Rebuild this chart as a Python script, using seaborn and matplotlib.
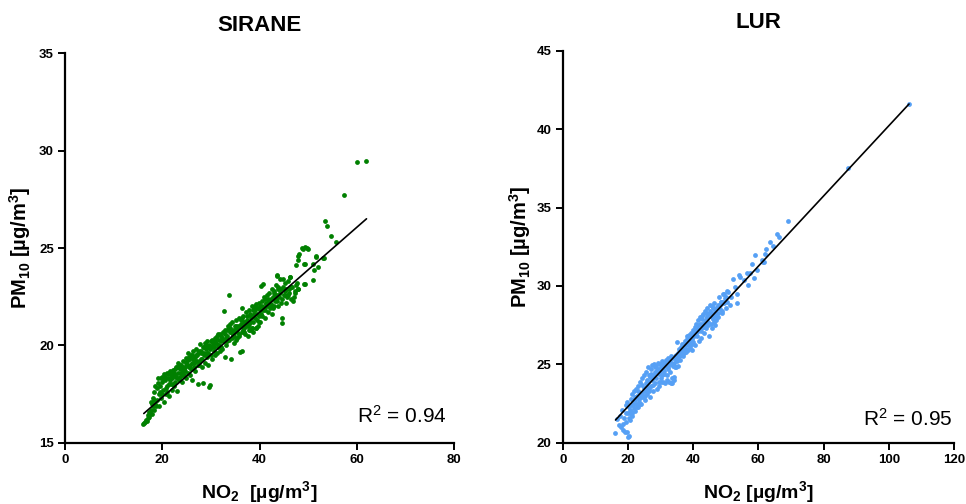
import matplotlib
matplotlib.use("Agg")
import matplotlib.pyplot as plt
import seaborn as sns

# SIRANE panel: points
sirane_no2 = [
    16.1, 16.3, 16.5, 16.6, 16.8, 17.0, 17.1, 17.3, 17.4, 17.5,
    17.6, 17.7, 17.8, 18.0, 18.1, 18.2, 18.4, 18.5, 18.7, 18.9,
    19.0, 19.1, 19.3, 19.4, 19.6, 19.8, 19.9, 20.1, 20.3, 20.4,
    20.6, 20.7, 20.9, 21.0, 21.2, 21.4, 21.5, 21.7, 21.8, 22.0,
    22.1, 22.3, 22.4, 22.6, 22.7, 22.9, 23.0, 23.2, 23.3, 23.4,
    23.6, 23.7, 23.9, 24.0, 24.2, 24.3, 24.5, 24.6, 24.8, 24.9,
    25.0, 25.2, 25.3, 25.5, 25.6, 25.8, 25.9, 26.1, 26.2, 26.4,
    26.5, 26.7, 26.8, 27.0, 27.1, 27.3, 27.4, 27.6, 27.8, 27.9,
    28.0, 28.2, 28.4, 28.5, 28.7, 28.8, 29.0, 29.2, 29.3, 29.5,
    29.6, 29.7, 29.8, 30.0, 30.2, 30.3, 30.5, 30.6, 30.8, 30.9,
    31.0, 31.2, 31.3, 31.5, 31.6, 31.8, 31.9, 32.1, 32.3, 32.4,
    32.6, 32.7, 32.9, 33.0, 33.2, 33.3, 33.5, 33.65, 33.8, 33.9,
    34.0, 34.1, 34.3, 34.4, 34.6, 34.7, 34.9, 35.0, 35.2, 35.4,
    35.5, 35.7, 35.8, 36.0, 36.1, 36.3, 36.5, 36.6, 36.8, 36.9,
    37.0, 37.2, 37.3, 37.5, 37.6, 37.8, 37.9, 38.1, 38.3, 38.4,
    38.6, 38.7, 38.9, 39.0, 39.2, 39.3, 39.5, 39.6, 39.8, 39.9,
    40.0, 40.2, 40.3, 40.5, 40.6, 40.8, 40.9, 41.1, 41.2, 41.4,
    41.5, 41.7, 41.8, 42.0, 42.2, 42.3, 42.5, 42.6, 42.8, 42.9,
    43.0, 43.2, 43.3, 43.5, 43.6, 43.8, 43.9, 44.1, 44.3, 44.4,
    44.5, 44.6, 44.6, 44.8, 45.0, 45.2, 45.4, 45.5, 45.7, 45.9,
    46.0, 46.3, 46.5, 46.7, 47.0, 47.2, 47.5, 47.6, 47.8, 48.0,
    48.0, 48.0, 48.2, 48.7, 48.9, 49.2, 49.3, 49.4, 49.8, 49.9,
    50.9, 51.1, 51.3, 51.6, 51.6, 52.1, 53.1, 53.3, 53.5, 53.8,
    54.7, 55.7, 57.4, 60.1, 62.0, 49.2, 43.5, 46.3, 49.4, 48.0,
    18.3, 19.5, 20.0, 20.8, 21.3, 21.9, 22.5, 23.1, 23.8, 24.4,
    25.1, 25.7, 26.3, 26.9, 27.5, 28.1, 28.6, 29.1, 29.9, 30.4,
    30.7, 31.1, 31.7, 32.2, 32.8, 33.4, 34.2, 34.8, 35.3, 35.9,
    36.2, 36.7, 37.1, 37.7, 38.2, 38.8, 39.4, 40.1, 40.7, 41.3,
    41.9, 42.4, 43.1, 43.7, 44.2, 44.9, 45.3, 45.8, 46.4, 47.3,
    19.7, 20.5, 21.1, 21.6, 22.2, 22.8, 23.5, 24.1, 24.7, 25.4,
    26.0, 26.6, 27.2, 27.7, 28.3, 28.9, 29.4, 30.1, 31.4, 32.0,
    33.1, 33.7, 34.5, 35.1, 35.6, 36.4, 37.4, 38.0, 38.5, 39.1,
    17.2, 17.9, 18.6, 19.2, 19.9, 20.2, 20.9, 21.4, 22.0, 22.6,
    23.1, 23.7, 24.3, 24.9, 25.5, 26.1, 26.7, 27.3, 27.9, 28.5,
    29.1, 29.7, 30.3, 30.9, 31.5, 32.1, 32.7, 33.3, 33.9, 34.5,
    35.1, 35.7, 36.3, 36.9, 37.5, 38.1, 38.7, 39.3, 39.9, 40.5,
    41.1, 41.7, 42.3, 42.9, 43.5, 44.1, 44.7, 45.3, 46.1, 46.9,
    36.5, 37.8, 39.0, 40.4, 41.6, 42.8, 38.4, 39.7, 41.0, 43.4,
]
sirane_pm = [
    15.95, 16.0, 16.05, 16.15, 16.1, 16.25, 16.4, 16.3, 16.55, 16.45,
    16.7, 17.1, 16.5, 16.9, 17.3, 16.7, 17.6, 17.0, 16.9, 17.8,
    17.2, 18.05, 17.5, 16.9, 17.9, 17.3, 18.4, 17.7, 18.55, 17.1,
    18.2, 17.5, 18.6, 17.9, 18.3, 17.4, 18.7, 18.0, 18.5, 17.7,
    18.3, 18.75, 17.9, 18.5, 18.1, 18.9, 17.65, 18.6, 19.1, 18.2,
    18.8, 18.4, 19.0, 18.1, 18.7, 19.2, 18.5, 18.9, 19.35, 18.3,
    19.0, 18.6, 19.6, 18.9, 19.3, 18.5, 19.5, 19.1, 18.2, 19.7,
    18.9, 19.4, 18.7, 19.8, 19.2, 18.0, 19.6, 19.0, 20.07, 19.3,
    19.7, 18.9, 18.05, 19.5, 20.1, 19.1, 19.8, 19.4, 20.2, 19.0,
    17.85, 19.9, 17.95, 19.5, 20.3, 19.3, 20.0, 19.7, 20.4, 19.5,
    20.1, 19.6, 20.5, 19.9, 20.3, 19.7, 20.6, 20.2, 19.8, 20.7,
    21.75, 20.3, 19.4, 20.8, 20.0, 20.5, 21.0, 22.6, 20.3, 20.7,
    20.9, 19.3, 20.4, 21.2, 20.6, 20.1, 21.0, 20.8, 21.3, 20.4,
    20.9, 21.4, 20.5, 19.65, 21.1, 20.7, 19.7, 21.5, 20.9, 21.2,
    20.6, 21.7, 21.0, 21.3, 20.5, 21.8, 21.1, 20.8, 21.5, 22.0,
    21.2, 20.7, 21.9, 21.4, 20.9, 22.1, 21.6, 21.0, 22.2, 21.5,
    21.8, 21.2, 23.05, 22.3, 21.5, 23.15, 21.9, 22.4, 21.4, 22.1,
    22.6, 21.7, 22.2, 22.7, 21.9, 22.4, 22.9, 21.6, 22.5, 22.0,
    22.8, 22.3, 23.1, 23.56, 22.6, 22.0, 23.0, 22.5, 23.4, 22.2,
    22.9, 21.4, 21.13, 23.4, 22.6, 23.2, 22.2, 22.9, 22.5, 23.3,
    22.7, 23.5, 22.4, 23.0, 22.5, 22.8, 23.1, 24.13, 23.2, 22.9,
    24.6, 24.4, 24.7, 25.0, 24.95, 24.2, 25.05, 24.18, 25.0, 24.95,
    23.36, 24.18, 23.87, 24.59, 24.55, 24.04, 24.5, 24.5, 26.39, 26.13,
    25.63, 25.29, 27.7, 29.4, 29.47, 23.15, 23.6, 23.5, 23.15, 22.9,
    17.2, 17.6, 18.1, 17.8, 18.0, 18.4, 18.6, 18.3, 18.6, 18.8,
    19.2, 19.0, 19.3, 19.5, 19.7, 19.3, 19.6, 19.9, 19.8, 20.1,
    19.9, 20.4, 20.0, 20.4, 20.6, 20.2, 20.7, 20.5, 20.7, 21.0,
    21.3, 20.8, 21.2, 21.0, 21.4, 21.6, 21.3, 22.0, 21.8, 22.2,
    22.3, 22.1, 22.6, 22.9, 22.7, 23.0, 22.8, 22.6, 23.0, 22.7,
    18.3, 18.4, 18.55, 18.2, 18.0, 18.35, 18.9, 18.5, 18.7, 19.4,
    18.8, 19.1, 19.5, 19.2, 19.9, 20.0, 19.6, 20.2, 20.0, 19.9,
    20.4, 20.9, 20.8, 20.3, 21.0, 21.4, 21.5, 21.2, 20.9, 21.8,
    16.6, 17.0, 17.9, 18.3, 17.5, 18.3, 17.6, 18.6, 18.6, 18.8,
    18.9, 19.0, 18.9, 19.1, 19.3, 19.5, 19.2, 19.0, 19.6, 19.9,
    19.6, 20.0, 19.9, 20.2, 20.6, 20.5, 20.2, 20.8, 21.1, 20.6,
    21.0, 20.6, 21.0, 20.7, 21.1, 21.6, 21.8, 20.9, 21.2, 22.0,
    21.8, 22.4, 22.0, 22.7, 22.3, 22.9, 22.4, 22.6, 22.9, 22.3,
    21.9, 20.8, 22.0, 21.6, 22.0, 21.9, 20.9, 21.9, 22.5, 22.4,
]
sirane_fit_no2 = [16.2, 62.0]
sirane_fit_pm = [16.5, 26.5]

# LUR panel
lur_no2 = [
    16.0, 16.8, 17.3, 17.6, 17.9, 18.2, 18.6, 18.8, 19.1, 19.4,
    19.5, 19.6, 19.8, 20.0, 20.1, 20.3, 20.4, 20.6, 20.8, 20.9,
    21.1, 21.2, 21.4, 21.6, 21.8, 22.0, 22.2, 22.4, 22.6, 22.8,
    23.0, 23.2, 23.4, 23.6, 23.8, 24.0, 24.2, 24.4, 24.6, 24.8,
    25.0, 25.2, 25.4, 25.6, 25.8, 26.0, 26.2, 26.4, 26.6, 26.8,
    27.0, 27.2, 27.4, 27.6, 27.8, 28.0, 28.2, 28.4, 28.6, 28.8,
    29.0, 29.2, 29.4, 29.6, 29.8, 30.0, 30.2, 30.4, 30.6, 30.8,
    31.0, 31.2, 31.4, 31.6, 31.8, 32.0, 32.2, 32.4, 32.6, 32.8,
    33.0, 33.2, 33.4, 33.6, 33.8, 34.0, 34.2, 34.4, 34.6, 34.9,
    35.1, 35.3, 35.5, 35.7, 35.9, 36.1, 36.3, 36.5, 36.7, 36.9,
    37.1, 37.3, 37.5, 37.7, 37.9, 38.1, 38.3, 38.5, 38.7, 38.9,
    39.1, 39.3, 39.5, 39.7, 39.9, 40.1, 40.3, 40.5, 40.7, 40.9,
    41.1, 41.3, 41.5, 41.7, 41.9, 42.1, 42.3, 42.5, 42.7, 42.9,
    43.1, 43.3, 43.5, 43.7, 43.9, 44.1, 44.3, 44.5, 44.7, 45.0,
    45.2, 45.4, 45.6, 45.8, 46.0, 46.2, 46.4, 46.6, 46.8, 47.0,
    47.3, 47.6, 47.9, 48.2, 48.5, 48.8, 49.1, 49.4, 49.7, 50.0,
    50.3, 50.8, 51.3, 51.7, 52.3, 52.8, 53.3, 53.6, 54.2, 54.3,
    55.5, 56.4, 56.9, 57.4, 58.2, 58.7, 58.9, 59.5, 61.0, 61.5,
    61.7, 61.9, 62.2, 63.6, 64.4, 65.8, 66.3, 69.1, 87.5, 106.2,
    20.2, 21.0, 21.5, 22.1, 22.7, 23.3, 23.9, 24.5, 25.1, 25.7,
    26.3, 26.9, 27.5, 28.1, 28.7, 29.3, 29.9, 30.5, 31.1, 31.7,
    32.3, 32.9, 33.5, 34.1, 34.7, 35.4, 36.0, 36.6, 37.2, 37.8,
    38.4, 39.0, 39.6, 40.2, 40.8, 41.4, 42.0, 42.6, 43.2, 43.8,
    44.4, 45.1, 45.7, 46.3, 46.9, 47.5, 48.1, 48.7, 49.3, 50.2,
    18.4, 19.3, 20.5, 21.3, 22.3, 23.1, 23.7, 24.3, 25.3, 25.9,
    26.5, 27.1, 27.7, 28.3, 28.9, 29.5, 30.1, 30.7, 31.3, 31.9,
    32.5, 33.1, 33.7, 34.3, 34.8, 35.6, 36.2, 36.8, 37.4, 38.0,
    38.6, 39.2, 39.8, 40.4, 41.0, 41.6, 42.2, 42.8, 43.4, 44.0,
    44.6, 45.3, 45.9, 46.5, 47.1, 47.7, 48.4, 49.0, 49.6, 50.5,
]
lur_pm = [
    20.64, 21.5, 21.1, 21.7, 21.0, 22.1, 20.8, 21.6, 20.7, 22.4,
    21.3, 20.7, 22.6, 21.9, 20.34, 22.3, 20.4, 21.45, 22.8, 21.8,
    22.4, 23.1, 21.9, 22.7, 23.3, 22.2, 22.9, 23.4, 22.5, 23.0,
    22.3, 23.6, 22.8, 23.9, 23.2, 22.5, 23.7, 24.1, 22.9, 23.5,
    24.3, 22.7, 23.8, 24.5, 23.1, 24.0, 24.85, 23.4, 24.3, 22.9,
    24.7, 23.6, 24.95, 24.2, 23.3, 25.0, 24.5, 23.8, 24.9, 23.4,
    24.6, 25.1, 23.9, 24.4, 25.0, 23.85, 24.8, 25.2, 24.3, 23.9,
    25.1, 24.6, 23.8, 25.3, 24.9, 24.0, 25.4, 24.7, 23.9, 25.2,
    24.5, 25.5, 24.1, 25.0, 25.4, 24.0, 25.1, 25.5, 24.8, 26.44,
    25.2, 25.7, 24.9, 25.5, 25.8, 25.3, 26.1, 25.6, 26.3, 25.5,
    26.0, 25.7, 26.5, 26.2, 25.8, 26.8, 26.3, 25.9, 26.9, 26.5,
    26.1, 27.0, 26.6, 25.9, 27.2, 26.4, 26.9, 27.4, 26.2, 27.6,
    26.8, 27.3, 27.8, 26.5, 27.5, 28.0, 27.1, 26.7, 27.9, 27.4,
    28.2, 27.0, 27.7, 28.4, 27.3, 28.0, 28.6, 27.5, 28.2, 26.8,
    28.8, 27.6, 28.3, 27.3, 28.6, 27.9, 28.9, 27.5, 28.4, 27.8,
    28.6, 28.0, 29.3, 28.5, 29.0, 28.3, 29.5, 28.9, 29.2, 28.6,
    29.7, 29.6, 28.8, 29.3, 30.44, 29.95, 28.9, 29.5, 30.7, 30.6,
    30.4, 30.8, 30.06, 30.8, 31.4, 30.5, 31.97, 31.0, 31.65, 31.5,
    31.52, 32.03, 32.37, 32.8, 32.56, 33.29, 33.1, 34.14, 37.5, 41.58,
    21.6, 22.0, 22.5, 22.0, 22.3, 22.6, 22.9, 23.0, 23.3, 23.6,
    23.9, 24.2, 24.0, 24.3, 24.1, 24.7, 24.5, 24.9, 24.4, 25.0,
    24.8, 25.0, 23.8, 24.2, 25.3, 25.4, 25.9, 25.9, 26.3, 26.0,
    26.6, 26.3, 26.8, 26.8, 27.0, 27.1, 27.2, 27.6, 27.6, 27.8,
    28.0, 28.1, 28.0, 28.2, 28.6, 28.3, 28.8, 28.9, 29.0, 29.3,
    21.2, 21.9, 22.1, 21.7, 22.7, 23.3, 22.5, 23.2, 23.0, 23.4,
    23.3, 24.4, 23.7, 24.8, 24.6, 23.6, 24.1, 24.7, 25.0, 24.3,
    25.3, 23.8, 24.9, 24.8, 25.6, 26.0, 25.6, 26.0, 25.9, 26.6,
    26.2, 26.8, 26.3, 27.1, 27.4, 27.2, 27.6, 28.1, 27.4, 28.3,
    27.7, 28.4, 28.7, 27.7, 28.1, 28.8, 29.0, 28.4, 29.5, 29.0,
]
lur_fit_no2 = [16.2, 106.2]
lur_fit_pm = [21.45, 41.6]

sns.set_style("ticks")
plt.rcParams["font.family"] = ["Liberation Sans", "DejaVu Sans"]
plt.rcParams["mathtext.fontset"] = "custom"
plt.rcParams["mathtext.rm"] = "Liberation Sans"
plt.rcParams["mathtext.bf"] = "Liberation Sans:bold"
plt.rcParams["mathtext.it"] = "Liberation Sans:italic"
plt.rcParams["text.color"] = "black"
plt.rcParams["axes.labelcolor"] = "black"

fig = plt.figure(figsize=(9.66, 5.04), dpi=100)
ax1 = fig.add_axes([0.0673, 0.1216, 0.4027, 0.7726])
ax2 = fig.add_axes([0.5825, 0.1216, 0.4051, 0.7778])

panels = [
    (ax1, sirane_no2, sirane_pm, sirane_fit_no2, sirane_fit_pm, "#008000",
     "SIRANE", "NO$_\\mathbf{2}$  [µg/m$^\\mathbf{3}$]", "R$^2$ = 0.94",
     (0, 80), [0, 20, 40, 60, 80], (15, 35), [15, 20, 25, 30, 35], 0.981, 0.05, -0.082),
    (ax2, lur_no2, lur_pm, lur_fit_no2, lur_fit_pm, "#56a0f5",
     "LUR", "NO$_\\mathbf{2}$ [µg/m$^\\mathbf{3}$]", "R$^2$ = 0.95",
     (0, 120), [0, 20, 40, 60, 80, 100, 120], (20, 45), [20, 25, 30, 35, 40, 45], 0.997, 0.043, -0.075),
]

for (ax, xs, ys, fx, fy, col, title, xlab, r2, xlim, xt, ylim, yt, rx, ry, ylx) in panels:
    sns.scatterplot(x=xs, y=ys, color=col, s=12, linewidth=0, ax=ax, zorder=2)
    sns.lineplot(x=fx, y=fy, color="black", linewidth=1.2, ax=ax, zorder=3)
    ax.set_xlim(*xlim)
    ax.set_ylim(*ylim)
    ax.set_xticks(xt)
    ax.set_yticks(yt)
    sns.despine(ax=ax)
    for sp in ["left", "bottom"]:
        ax.spines[sp].set_linewidth(1.6)
        ax.spines[sp].set_color("black")
    ax.tick_params(width=1.4, length=5, labelsize=9.5, colors="black", pad=3)
    for lab in ax.get_xticklabels() + ax.get_yticklabels():
        lab.set_fontweight("bold")
    ax.set_title(title, fontsize=16, fontweight="bold", pad=16, color="black")
    ax.set_xlabel(xlab, fontsize=14, fontweight="bold")
    ax.set_ylabel("PM$_\\mathbf{10}$ [µg/m$^\\mathbf{3}$]", fontsize=14.5, fontweight="bold")
    ax.xaxis.set_label_coords(0.5, -0.093)
    ax.yaxis.set_label_coords(ylx, 0.5)
    ax.text(rx, ry, r2, transform=ax.transAxes, ha="right", va="baseline", fontsize=15)

fig.savefig("out.png", dpi=100)
